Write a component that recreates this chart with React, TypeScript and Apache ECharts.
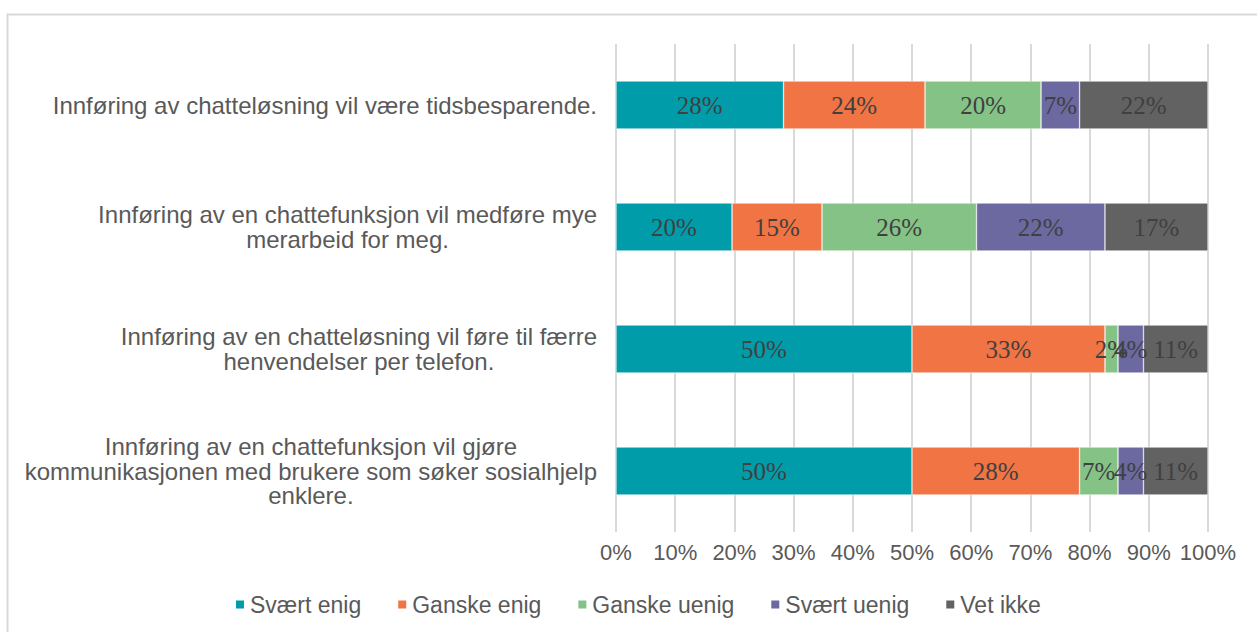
import React, { useEffect, useRef } from "react";
import * as echarts from "echarts";

const categories = [
  "Innføring av chatteløsning vil være tidsbesparende.",
  "Innføring av en chattefunksjon vil medføre mye\nmerarbeid for meg.",
  "Innføring av en chatteløsning vil føre til færre\nhenvendelser per telefon.",
  "Innføring av en chattefunksjon vil gjøre\nkommunikasjonen med brukere som søker sosialhjelp\nenklere.",
];

const seriesNames = ["Svært enig", "Ganske enig", "Ganske uenig", "Svært uenig", "Vet ikke"];
const svaertEnig = [28.3, 19.6, 50.0, 50.0];
const ganskeEnig = [23.9, 15.2, 32.6, 28.3];
const ganskeUenig = [19.6, 26.1, 2.2, 6.5];
const svaertUenig = [6.5, 21.7, 4.3, 4.3];
const vetIkke = [21.7, 17.4, 10.9, 10.9];
const seriesValues = [svaertEnig, ganskeEnig, ganskeUenig, svaertUenig, vetIkke];
const colors = ["#009CAA", "#F07444", "#85C285", "#6B69A0", "#626262"];
const xTicks = [0, 10, 20, 30, 40, 50, 60, 70, 80, 90, 100];

export default function App() {
  const ref = useRef<HTMLDivElement>(null);
  useEffect(() => {
    if (!ref.current) return;
    const chart = echarts.init(ref.current, null, { renderer: "svg" });
    chart.setOption({
      animation: false,
      backgroundColor: "#ffffff",
      graphic: [
        {
          type: "rect",
          shape: { x: 7.5, y: 14.5, width: 1300, height: 700 },
          style: { fill: "none", stroke: "#D9D9D9", lineWidth: 2 },
          silent: true,
          z: -1,
        },
      ],
      grid: { left: 616, right: 49, top: 44, bottom: 100, containLabel: false },
      legend: {
        left: 229,
        top: 588,
        itemWidth: 10,
        itemHeight: 10,
        itemGap: 35,
        icon: "rect",
        textStyle: { color: "#595959", fontSize: 23, fontFamily: "Liberation Sans" },
        data: seriesNames,
      },
      xAxis: {
        type: "value",
        min: 0,
        max: 100,
        interval: 10,
        axisLine: { show: false },
        axisTick: { show: false },
        splitLine: { lineStyle: { color: "#D9D9D9", width: 2 } },
        axisLabel: {
          formatter: (v: number) => (xTicks.includes(v) ? v + "%" : ""),
          color: "#595959",
          fontSize: 22,
          fontFamily: "Liberation Sans",
          margin: 9,
        },
      },
      yAxis: {
        type: "category",
        inverse: true,
        data: categories,
        axisLine: { show: false },
        axisTick: { show: false },
        axisLabel: {
          margin: 19,
          align: "right",
          color: "#595959",
          fontSize: 24,
          fontFamily: "Liberation Sans",
          lineHeight: 24.5,
          formatter: (v: string) => v.split("\n").map((l) => `{c|${l}}`).join("\n"),
          rich: {
            c: {
              align: "center",
              color: "#595959",
              fontSize: 24,
              fontFamily: "Liberation Sans",
              lineHeight: 24.5,
            },
          },
        },
      },
      series: seriesNames.map((name, i) => ({
        name,
        type: "bar",
        stack: "total",
        barWidth: 48,
        data: seriesValues[i],
        itemStyle: { color: colors[i], borderColor: "#ffffff", borderWidth: 0.5 },
        label: {
          show: true,
          position: "inside",
          formatter: (p: any) => Math.round(p.value) + "%",
          color: "#404040",
          fontSize: 25,
          fontFamily: "Liberation Serif",
        },
      })),
    });
    return () => chart.dispose();
  }, []);
  return (
    <div
      ref={ref}
      style={{ position: "fixed", left: 0, top: 0, width: 1257, height: 632 }}
    />
  );
}
